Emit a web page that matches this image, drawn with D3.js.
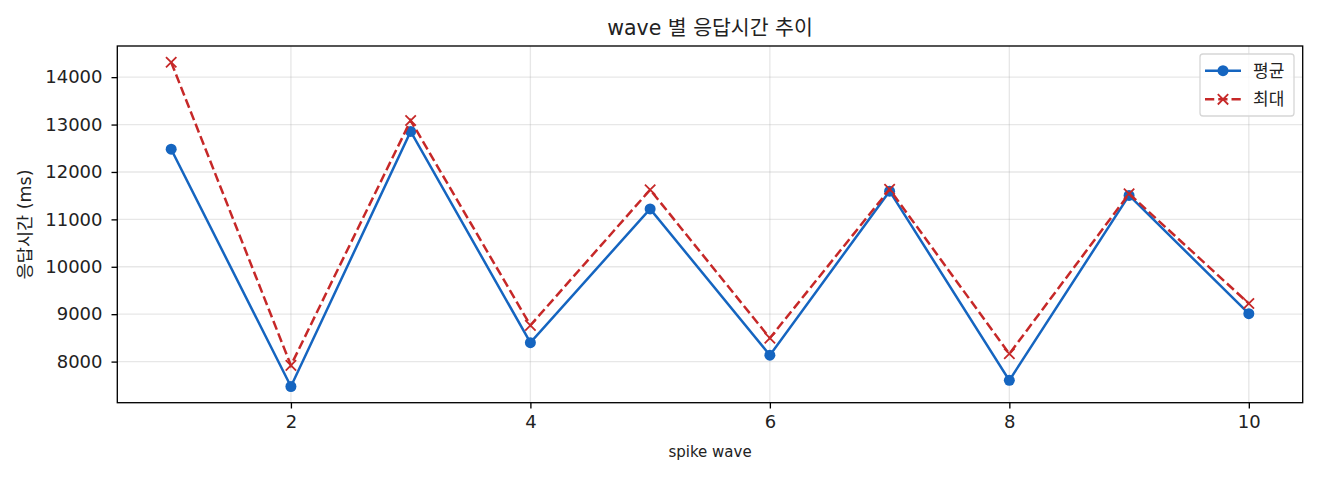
<!DOCTYPE html>
<html><head><meta charset="utf-8">
<script src="https://cdn.jsdelivr.net/npm/d3@7"></script>
<style>body{margin:0;background:#fff;} text{font-family:"DejaVu Sans","Noto Sans CJK KR",sans-serif;fill:#222;}</style>
</head><body>
<svg id="c" width="1320" height="480"></svg>
<script>
const waves = [1,2,3,4,5,6,7,8,9,10];
const avgValues = [12480, 7475, 12855, 8400, 11220, 8135, 11595, 7605, 11505, 9010];
const maxValues = [14315, 7920, 13085, 8765, 11625, 8495, 11635, 8165, 11540, 9225];
const xTicks = [2,4,6,8,10];
const yTicks = [8000,9000,10000,11000,12000,13000,14000];
const seriesNames = ["평균","최대"];
const titleText = "wave 별 응답시간 추이";
const xLabel = "spike wave";
const yLabel = "응답시간 (ms)";

const svg = d3.select("#c");
const L=117.3, R=1302.7, T=46, B=402.7;
const allV = avgValues.concat(maxValues);
const vmin=d3.min(allV), vmax=d3.max(allV), span=vmax-vmin;
const x = d3.scaleLinear().domain([1-0.45,10+0.45]).range([L,R]);
const y = d3.scaleLinear().domain([vmin-0.05*span, vmax+0.05*span]).range([B,T]);

// grid
const g = svg.append("g");
g.selectAll(".gx").data(xTicks).join("line").attr("x1",d=>x(d)).attr("x2",d=>x(d)).attr("y1",T).attr("y2",B).attr("stroke","#b0b0b0").attr("stroke-opacity",0.3).attr("stroke-width",1.33);
g.selectAll(".gy").data(yTicks).join("line").attr("y1",d=>y(d)).attr("y2",d=>y(d)).attr("x1",L).attr("x2",R).attr("stroke","#b0b0b0").attr("stroke-opacity",0.3).attr("stroke-width",1.33);

// axes
const xa = svg.append("g").attr("transform",`translate(0,${B})`).call(d3.axisBottom(x).tickValues(xTicks).tickSize(5.8).tickPadding(7).tickFormat(d3.format("d")));
const ya = svg.append("g").attr("transform",`translate(${L},0)`).call(d3.axisLeft(y).tickValues(yTicks).tickSize(5.8).tickPadding(9).tickFormat(d3.format("d")));
[xa,ya].forEach(a=>{a.select(".domain").remove();a.selectAll("line").attr("stroke","#000").attr("stroke-width",1.33);a.selectAll("text").attr("font-size",18).attr("fill","#222").style("font-family","'DejaVu Sans'");});
svg.append("rect").attr("x",L).attr("y",T).attr("width",R-L).attr("height",B-T).attr("fill","none").attr("stroke","#000").attr("stroke-width",1.33);

const blue="#1565c0", red="#c62828";
const line = d3.line().x((d,i)=>x(waves[i])).y(d=>y(d));
svg.append("path").attr("d",line(avgValues)).attr("fill","none").attr("stroke",blue).attr("stroke-width",2.5);
svg.selectAll(".pa").data(avgValues).join("circle").attr("cx",(d,i)=>x(waves[i])).attr("cy",d=>y(d)).attr("r",5.5).attr("fill",blue);
svg.append("path").attr("d",line(maxValues)).attr("fill","none").attr("stroke",red).attr("stroke-width",2.5).attr("stroke-dasharray","9.25,4");
const xm = (cx,cy,s)=>`M${cx-s},${cy-s}L${cx+s},${cy+s}M${cx-s},${cy+s}L${cx+s},${cy-s}`;
svg.selectAll(".pm").data(maxValues).join("path").attr("d",(d,i)=>xm(x(waves[i]),y(d),5.2)).attr("stroke",red).attr("stroke-width",1.8).attr("fill","none");

// title & labels
svg.append("text").attr("x",(L+R)/2).attr("y",35).attr("text-anchor","middle").attr("font-size",20.5).text(titleText);
svg.append("text").attr("x",(L+R)/2).attr("y",457).attr("text-anchor","middle").attr("font-size",15).text(xLabel);
svg.append("text").attr("transform",`translate(31,${(T+B)/2}) rotate(-90)`).attr("text-anchor","middle").attr("font-size",17.5).text(yLabel);

// legend
const lg = svg.append("g");
lg.append("rect").attr("x",1200).attr("y",54).attr("width",94).attr("height",62).attr("rx",3).attr("fill","#fff").attr("fill-opacity",0.8).attr("stroke","#d6d6d6").attr("stroke-width",1.3);
const ly=[70.7,99.3];
lg.append("line").attr("x1",1205).attr("x2",1241).attr("y1",ly[0]).attr("y2",ly[0]).attr("stroke",blue).attr("stroke-width",2.5);
lg.append("circle").attr("cx",1223).attr("cy",ly[0]).attr("r",5.5).attr("fill",blue);
lg.append("line").attr("x1",1205).attr("x2",1241).attr("y1",ly[1]).attr("y2",ly[1]).attr("stroke",red).attr("stroke-width",2.5).attr("stroke-dasharray","9.25,4");
lg.append("path").attr("d",xm(1223,ly[1],5.2)).attr("stroke",red).attr("stroke-width",1.8);
lg.selectAll(".lt").data(seriesNames).join("text").attr("x",1253).attr("y",(d,i)=>ly[i]+6).attr("font-size",17).text(d=>d);
</script>
</body></html>
